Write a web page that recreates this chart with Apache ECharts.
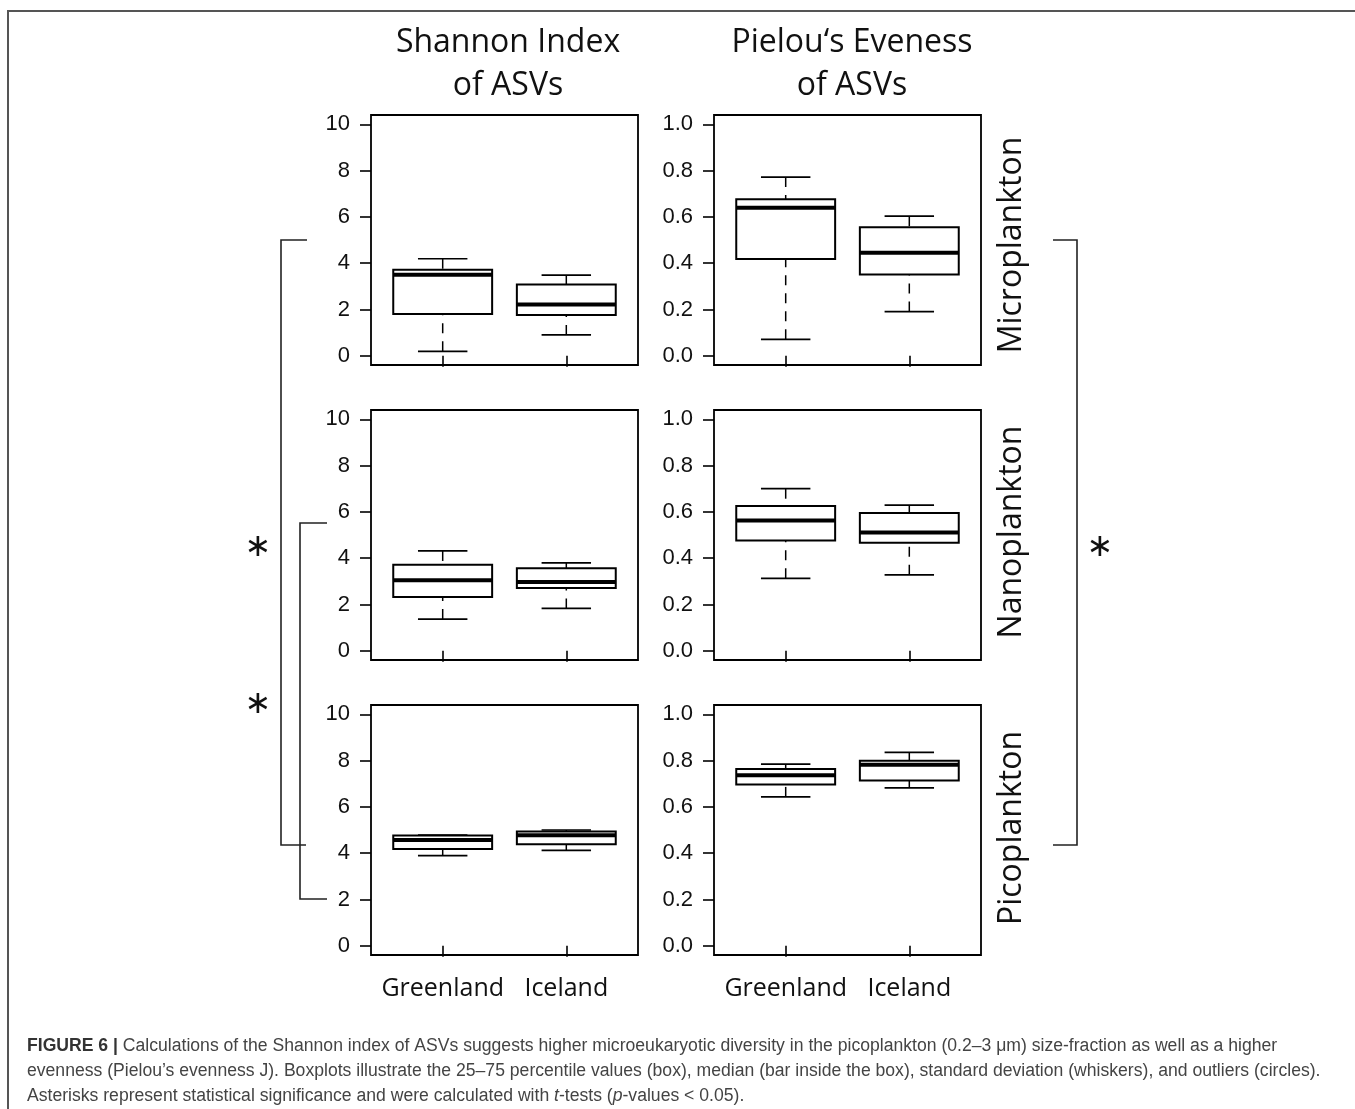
<!DOCTYPE html>
<html>
<head>
<meta charset="utf-8">
<script src="https://cdn.jsdelivr.net/npm/echarts@6/dist/echarts.min.js"></script>
<style>
html,body{margin:0;padding:0;background:#fff;}
#chart{width:1355px;height:1109px;}
</style>
</head>
<body>
<div id="chart"></div>
<script>
// ---- data ----
const categories = ['Greenland', 'Iceland'];
// each entry: [lower whisker, Q1, median, Q3, upper whisker]
const shannonMicro = [[0.19, 1.80, 3.50, 3.71, 4.19], [0.90, 1.76, 2.21, 3.08, 3.48]];
const pielouMicro  = [[0.071, 0.418, 0.639, 0.676, 0.772], [0.191, 0.351, 0.445, 0.555, 0.603]];
const shannonNano  = [[1.37, 2.32, 3.04, 3.71, 4.31], [1.83, 2.71, 2.97, 3.56, 3.80]];
const pielouNano   = [[0.313, 0.476, 0.563, 0.625, 0.700], [0.328, 0.466, 0.511, 0.595, 0.629]];
const shannonPico  = [[3.89, 4.18, 4.57, 4.76, 4.78], [4.12, 4.38, 4.77, 4.93, 5.00]];
const pielouPico   = [[0.643, 0.697, 0.736, 0.763, 0.785], [0.682, 0.714, 0.782, 0.799, 0.835]];
const shannonTicks = [0, 2, 4, 6, 8, 10];
const pielouTicks  = [0, 0.2, 0.4, 0.6, 0.8, 1.0];
const colTitles = [['Shannon Index', 'of ASVs'], ['Pielou\u2018s Eveness', 'of ASVs']];
const rowTitles = ['Microplankton', 'Nanoplankton', 'Picoplankton'];

// ---- layout ----
const colLeft = [371, 714];
const colWidth = 267;
const rowTop = [115, 410, 705];
const rowHeight = 250;

const panels = [
  {row: 0, col: 0, data: shannonMicro, ticks: shannonTicks, kind: 's'},
  {row: 0, col: 1, data: pielouMicro,  ticks: pielouTicks,  kind: 'p'},
  {row: 1, col: 0, data: shannonNano,  ticks: shannonTicks, kind: 's'},
  {row: 1, col: 1, data: pielouNano,   ticks: pielouTicks,  kind: 'p'},
  {row: 2, col: 0, data: shannonPico,  ticks: shannonTicks, kind: 's'},
  {row: 2, col: 1, data: pielouPico,   ticks: pielouTicks,  kind: 'p'}
];

const grids = [], xAxes = [], yAxes = [], series = [];
panels.forEach((p, i) => {
  grids.push({
    left: colLeft[p.col], top: rowTop[p.row], width: colWidth, height: rowHeight,
    show: true, borderColor: '#000', borderWidth: 1.8, backgroundColor: 'transparent'
  });
  xAxes.push({
    type: 'value', gridIndex: i, min: 0.42, max: 2.58,
    axisLine: {show: false},
    splitLine: {show: false},
    axisTick: {show: true, length: 11, lineStyle: {color: '#000', width: 1.6}, customValues: [1, 2]},
    axisLabel: {
      show: p.row === 2, customValues: [1, 2], margin: 21,
      fontFamily: 'Open Sans', fontSize: 25, color: '#111',
      formatter: v => categories[Math.round(v) - 1] || ''
    }
  });
  const span = p.kind === 's' ? 10 : 1;
  yAxes.push({
    type: 'value', gridIndex: i, min: -0.04 * span, max: 1.04 * span,
    axisLine: {show: false},
    splitLine: {show: false},
    axisTick: {show: true, length: 11, lineStyle: {color: '#000', width: 1.6}, customValues: p.ticks},
    axisLabel: {
      customValues: p.ticks, margin: 21,
      fontFamily: 'Liberation Sans', fontSize: 22, color: '#111',
      formatter: v => p.kind === 's' ? String(Math.round(v)) : v.toFixed(1)
    }
  });
  series.push({
    type: 'custom', xAxisIndex: i, yAxisIndex: i, silent: true,
    data: categories.map((c, k) => [k + 1].concat(p.data[k])),
    encode: {x: 0, y: [1, 2, 3, 4, 5]},
    renderItem: function (params, api) {
      const x = api.value(0);
      const lo = api.value(1), q1 = api.value(2), md = api.value(3), q3 = api.value(4), hi = api.value(5);
      const bw = 0.4, cw = 0.2;
      const c = (a, b) => api.coord([a, b]);
      const tl = c(x - bw, q3), br = c(x + bw, q1);
      const ln = (a, b, w, dash) => ({
        type: 'line',
        shape: {x1: a[0], y1: a[1], x2: b[0], y2: b[1]},
        style: {stroke: '#000', lineWidth: w, lineDash: dash || null}
      });
      return {
        type: 'group',
        children: [
          ln(c(x, hi), c(x, q3), 1.5, [10, 8]),
          ln(c(x, lo), c(x, q1), 1.5, [10, 8]),
          ln(c(x - cw, hi), c(x + cw, hi), 1.7),
          ln(c(x - cw, lo), c(x + cw, lo), 1.7),
          {type: 'rect', shape: {x: tl[0], y: tl[1], width: br[0] - tl[0], height: br[1] - tl[1]},
           style: {fill: 'none', stroke: '#000', lineWidth: 2}},
          ln(c(x - bw, md), c(x + bw, md), 4)
        ]
      };
    }
  });
});

// ---- annotations ----
const graphics = [];
// figure frame (left and top edges)
graphics.push({type: 'polyline', shape: {points: [[8, 1109], [8, 11], [1355, 11]]},
  style: {stroke: '#555', lineWidth: 2, fill: null}});
// column titles
const colCenters = [508, 852];
colTitles.forEach((t, i) => {
  t.forEach((line, j) => {
    graphics.push({type: 'text', x: colCenters[i], y: 43 + j * 43,
      style: {text: line, font: '32px "Open Sans"', fill: '#111', textAlign: 'center', textVerticalAlign: 'middle'}});
  });
});
// row titles
const rowCenters = [245, 532, 828];
rowTitles.forEach((t, i) => {
  graphics.push({type: 'text', x: 1012, y: rowCenters[i], rotation: Math.PI / 2,
    style: {text: t, font: '32px "Open Sans"', fill: '#111', textAlign: 'center', textVerticalAlign: 'middle'}});
});
// brackets
const br = (pts) => graphics.push({type: 'polyline', shape: {points: pts},
  style: {stroke: '#222', lineWidth: 1.6, fill: null}});
br([[307, 240], [281, 240], [281, 845], [306, 845]]);
br([[327, 523], [300, 523], [300, 899], [327, 899]]);
br([[1053, 240], [1077, 240], [1077, 845], [1053, 845]]);
// asterisks
[[258, 548], [258, 705], [1100, 548]].forEach(pt => {
  graphics.push({type: 'text', x: pt[0], y: pt[1],
    style: {text: '\u2217', font: '32px "DejaVu Sans"', fill: '#111', textAlign: 'center', textVerticalAlign: 'middle'}});
});
// caption
const capFont = 'Liberation Sans';
const capSize = 17.6;
const capRich = {
  b: {fontFamily: capFont, fontSize: capSize, fontWeight: 'bold', fill: '#333', color: '#333'},
  n: {fontFamily: capFont, fontSize: capSize, fill: '#444', color: '#444'},
  i: {fontFamily: capFont, fontSize: capSize, fontStyle: 'italic', fill: '#444', color: '#444'}
};
const capLines = [
  '{b|FIGURE 6 |}{n| Calculations of the Shannon index of ASVs suggests higher microeukaryotic diversity in the picoplankton (0.2\u20133 \u03bcm) size-fraction as well as a higher}',
  '{n|evenness (Pielou\u2019s evenness J). Boxplots illustrate the 25\u201375 percentile values (box), median (bar inside the box), standard deviation (whiskers), and outliers (circles).}',
  '{n|Asterisks represent statistical significance and were calculated with }{i|t}{n|-tests (}{i|p}{n|-values < 0.05).}'
];
capLines.forEach((t, i) => {
  graphics.push({type: 'text', x: 27, y: 1046 + i * 25,
    style: {text: t, rich: capRich, font: capSize + 'px "Liberation Sans"', fill: '#444', textAlign: 'left', textVerticalAlign: 'middle'}});
});

const chart = echarts.init(document.getElementById('chart'), null, {renderer: 'canvas'});
chart.setOption({
  animation: false,
  backgroundColor: '#fff',
  grid: grids,
  xAxis: xAxes,
  yAxis: yAxes,
  series: series,
  graphic: graphics
});
</script>
</body>
</html>
